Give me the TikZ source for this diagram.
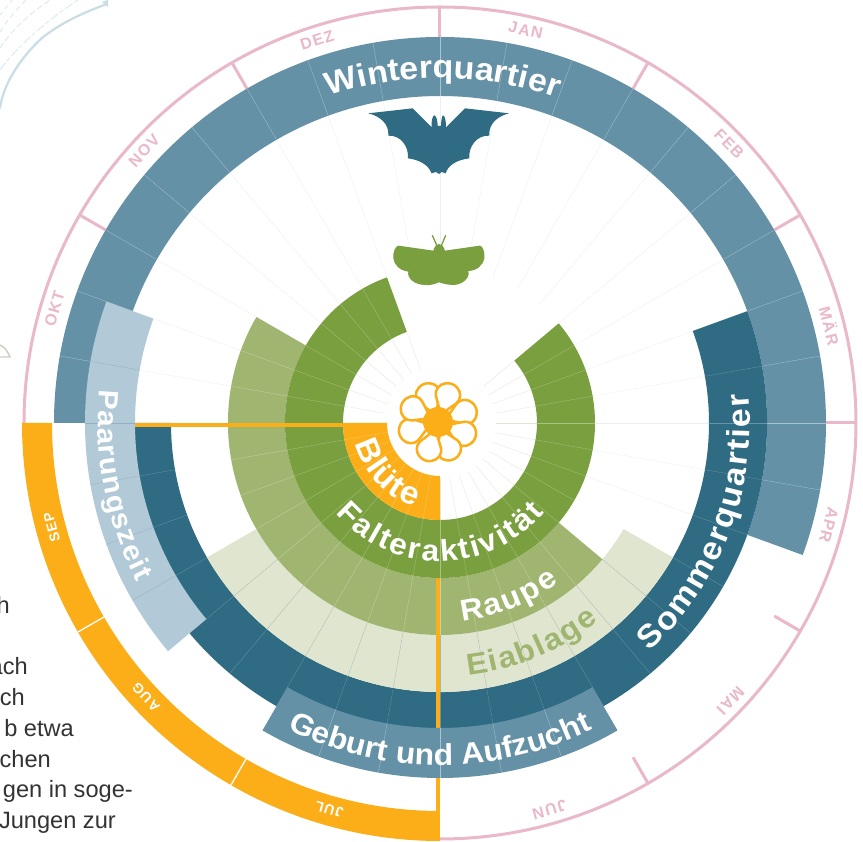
\documentclass[tikz,border=0pt]{standalone}
\usepackage{fontspec}
\setmainfont{Liberation Sans}
\newfontfamily\lab[FakeStretch=1.06]{Liberation Sans}
\newfontfamily\mon[LetterSpace=8]{Liberation Sans}
\usetikzlibrary{decorations.text}
\definecolor{cwinter}{HTML}{6591A6}
\definecolor{cdark}{HTML}{2F6B82}
\definecolor{clight}{HTML}{B2C9D7}
\definecolor{corange}{HTML}{FBAE17}
\definecolor{cgreen}{HTML}{7A9F3F}
\definecolor{craupe}{HTML}{A0B570}
\definecolor{cpale}{HTML}{E0E5CF}
\definecolor{cpink}{HTML}{E9B8CB}
\definecolor{cfaintgreen}{HTML}{E1E6D2}
\definecolor{cfaintwhite}{HTML}{E9EFF2}
\definecolor{cmap}{HTML}{C9DDE6}
\definecolor{ctext}{HTML}{333333}
\newcommand\ringsec[5]{\fill[#5] (#3:#1pt) arc[start angle=#3,end angle=#4,radius=#1pt] -- (#4:#2pt) arc[start angle=#4,end angle=#3,radius=#2pt] -- cycle;}
\newcommand\arclabel[6]{\path[decorate,decoration={text along path,text align=center,text={|\lab\bfseries\fontsize{#4}{#4}\selectfont\color{#5}|#6}}] (#2:#1pt) arc[start angle=#2,end angle=#3,radius=#1pt];}
\newcommand\bandlines[4]{\foreach \a in {#1} \draw[#4,line width=0.3pt] (\a:#2pt) -- (\a:#3pt);}
\tikzset{
  pix/.style={shift={(-440pt,423pt)},x=1pt,y=-1pt},
  monthpink/.style={font=\mon\bfseries\fontsize{16}{16}\selectfont,inner sep=0pt,text=cpink},
  monthwhite/.style={font=\mon\bfseries\fontsize{14}{14}\selectfont,inner sep=0pt,text=white},
  sidetext/.style={anchor=base east,font=\fontsize{23.6}{23.6}\selectfont,text=ctext,inner sep=0pt}
}
\begin{document}
\begin{tikzpicture}[x=1pt,y=1pt]
\useasboundingbox (-440pt,-419pt) rectangle (423pt,423pt);
\fill[white] (-440pt,-419pt) rectangle (423pt,423pt);
% map fragments
\begin{scope}[pix]
\draw[cmap,line width=2.2pt,line cap=round] (0,108) .. controls (3,85) and (20,58) .. (42,38) .. controls (62,22) and (85,12) .. (107,4);
\draw[cmap!70,line width=0.8pt,dash pattern=on 9pt off 2pt on 4pt off 3pt] (0,70) .. controls (15,50) and (40,25) .. (78,0);
\draw[cmap!70,line width=0.8pt,dash pattern=on 6pt off 3pt] (0,48) .. controls (12,30) and (28,15) .. (50,0);
\draw[cmap!70,line width=0.8pt,dash pattern=on 5pt off 4pt] (0,32) .. controls (6,22) and (16,10) .. (26,0);
\draw[cmap!70,line width=0.8pt,dash pattern=on 4pt off 4pt] (0,15) -- (12,0);
\fill[cmap] (102,2) -- (108,0) -- (108,7) -- cycle;
\draw[cfaintgreen!90!black,line width=1.4pt] (0,345) .. controls (5,347) and (8,352) .. (10,357) -- (0,357);
\end{scope}
% side text
\node[sidetext] (t1) at (-430pt,-191pt) {h};
\node[sidetext] (t2) at (-412pt,-252pt) {ach};
\node[sidetext] (t3) at (-415pt,-283pt) {ch};
\node[sidetext] (t4) at (-366pt,-314pt) {b etwa};
\node[sidetext] (t5) at (-389pt,-345pt) {chen};
\node[sidetext] (t6) at (-307pt,-375pt) {gen in soge-};
\node[sidetext] (t7) at (-324pt,-406pt) {Jungen zur};
% faint radial lines on white
\bandlines{-20,-10,...,180}{155}{327}{cfaintwhite}
\bandlines{110,120,...,400}{56}{97}{cfaintgreen}
% outer pink ring
\draw[cpink,line width=3pt] (180:416pt) arc[start angle=180,end angle=-90,radius=416pt];
\foreach \a in {150,120,90,60,30,0,-30,-60}
  \draw[cpink,line width=3pt] (\a:386pt) -- (\a:416pt);
% orange month sector
\ringsec{418}{388}{180}{270}{corange}
\foreach \a in {210,240}
  \draw[white,line width=1.3pt] (\a:388pt) -- (\a:418pt);
% bands
\ringsec{386}{327}{180}{-20}{cwinter}
\bandlines{-10,0,...,170}{327}{386}{cwinter!55!white}
\ringsec{327}{269}{20}{-180}{cdark}
\bandlines{-170,-160,...,10}{269}{327}{cdark!72!white}
\ringsec{269}{212}{210}{330}{cpale}
\bandlines{220,230,...,320}{212}{269}{cdark!35!cpale}
\ringsec{212}{155}{150}{320}{craupe}
\bandlines{160,170,...,310}{155}{212}{craupe!60!white}
% orange axis through the bands
\fill[corange] (-4pt,-155pt) rectangle (0pt,-388pt);
\ringsec{155}{97}{110}{400}{cgreen}
\bandlines{120,130,...,390}{97}{155}{cgreen!65!white}
\ringsec{97}{53}{180}{270}{corange}
\bandlines{190,200,...,260}{53}{97}{corange!65!white}
\fill[corange] (-305pt,0.3pt) rectangle (-97pt,-3.8pt);
\ringsec{355}{305}{160}{220}{clight}
\bandlines{170,180,...,210}{305}{355}{clight!75!cdark}
\ringsec{355}{305}{240}{300}{cwinter}
\bandlines{250,260,...,290}{305}{355}{cwinter!55!white}
% bat and moth
\begin{scope}[x=0.3333pt,y=-0.3333pt,shift={(-100pt,333pt)}]
\fill[cdark] (85,70) -- (218,55) -- (275,112) .. controls (273,95) and (278,76) .. (283,76) .. controls (290,78) and (293,95) .. (293,108) -- (303,108) .. controls (303,95) and (306,76) .. (309,76) .. controls (316,78) and (318,95) .. (318,112) -- (375,55) -- (507,70) .. controls (475,78) and (445,100) .. (448,137) .. controls (410,135) and (385,170) .. (388,205) .. controls (350,210) and (325,225) .. (317,250) -- (305,246) -- (297,252) -- (288,246) -- (275,250) .. controls (265,225) and (240,210) .. (204,205) .. controls (207,170) and (182,135) .. (145,137) .. controls (148,100) and (118,78) .. (85,70) -- cycle;
\draw[cgreen,line width=1.3pt] (277,436) -- (292,470) (317,436) -- (303,470);
\fill[cgreen] (175,467) -- (280,482) .. controls (284,468) and (290,462) .. (297,462) .. controls (304,462) and (311,468) .. (315,482) -- (420,467) .. controls (430,468) and (435,490) .. (433,505) .. controls (428,528) and (410,542) .. (385,543) .. controls (392,565) and (365,585) .. (340,585) .. controls (322,585) and (305,580) .. (297,577) .. controls (285,582) and (270,587) .. (255,585) .. controls (225,585) and (200,565) .. (205,545) .. controls (180,542) and (162,525) .. (160,505) .. controls (158,490) and (165,468) .. (175,467) -- cycle;
\end{scope}
% flower
\begin{scope}[shift={(-2pt,1pt)}]
\foreach \a in {110,70,20,-24,-68,-108,198,152}
  \draw[corange,fill=white,line width=2.5pt,line join=round,rotate=\a] (11pt,2pt) -- (24pt,11pt) .. controls (29pt,14pt) and (36pt,12pt) .. (39pt,6pt) .. controls (41pt,2pt) and (41pt,-2pt) .. (39pt,-6pt) .. controls (36pt,-12pt) and (29pt,-14pt) .. (24pt,-11pt) -- (11pt,-2pt) -- cycle;
\fill[corange] (0pt,0pt) circle[radius=15pt];
\end{scope}
% month labels
\foreach \a/\m in {107.8/DEZ,77.7/JAN,44/FEB,14/MÄR,-14.7/APR,-43.7/MAI,-74.2/JUN,163.5/OKT,137.4/NOV}
  \node[monthpink,rotate=\a-90] at (\a:402pt) {\m};
\foreach \a/\m in {254/JUL,223/AUG,195/SEP}
  \node[monthwhite,rotate=\a-90] at (\a:402pt) {\m};
% band labels
\arclabel{345}{130}{49}{32}{white}{Winterquartier}
\arclabel{310}{-70}{28}{32}{white}{{S\kern1.9pt}{o\kern1.9pt}{m\kern1.9pt}{m\kern1.9pt}{e\kern1.9pt}{r\kern1.9pt}{q\kern1.9pt}{u\kern1.9pt}{a\kern1.9pt}{r\kern1.9pt}{t\kern1.9pt}{i\kern1.9pt}{e\kern1.9pt}r}
\arclabel{342}{150}{232}{28}{white}{{P\kern1.3pt}{a\kern1.3pt}{a\kern1.3pt}{r\kern1.3pt}{u\kern1.3pt}{n\kern1.3pt}{g\kern1.3pt}{s\kern1.3pt}{z\kern1.3pt}{e\kern1.3pt}{i\kern1.3pt}t}
\arclabel{342}{225}{315}{30}{white}{Geburt und Aufzucht}
\arclabel{254}{245}{340}{30}{craupe}{{E\kern1.8pt}{i\kern1.8pt}{a\kern1.8pt}{b\kern1.8pt}{l\kern1.8pt}{a\kern1.8pt}{g\kern1.8pt}e}
\arclabel{199}{240}{343}{30}{white}{{R\kern2pt}{a\kern2pt}{u\kern2pt}{p\kern2pt}e}
\arclabel{138}{200}{340}{30}{white}{{F\kern2.2pt}{a\kern2.2pt}{l\kern2.2pt}{t\kern2.2pt}{e\kern2.2pt}{r\kern2.2pt}{a\kern2.2pt}{k\kern2.2pt}{t\kern2.2pt}{i\kern2.2pt}{v\kern2.2pt}{i\kern2.2pt}{t\kern2.2pt}{ä\kern2.2pt}t}
\arclabel{87}{170}{277}{32}{white}{{B\kern1.5pt}{l\kern1.5pt}{ü\kern1.5pt}{t\kern1.5pt}e}
\end{tikzpicture}
\end{document}
